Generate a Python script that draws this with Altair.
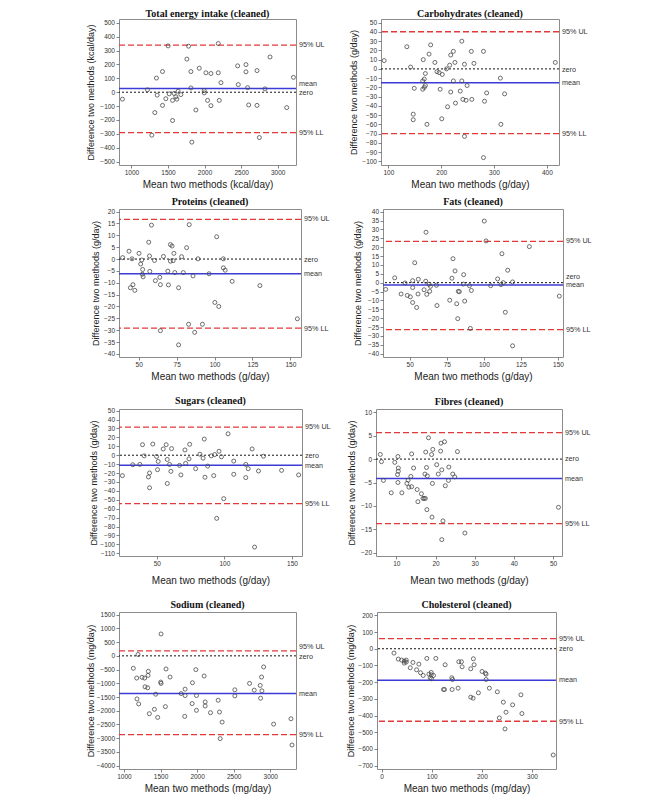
import altair as alt
import pandas as pd

titles = ["Total energy intake (cleaned)", "Carbohydrates (cleaned)", "Proteins (cleaned)",
          "Fats (cleaned)", "Sugars (cleaned)", "Fibres (cleaned)",
          "Sodium (cleaned)", "Cholesterol (cleaned)"]
units = ["kcal/day", "g/day", "g/day", "g/day", "g/day", "g/day", "mg/day", "mg/day"]
line_labels = ["95% UL", "zero", "mean", "95% LL"]

# ---------- data (mean of two methods, difference of two methods) ----------
energy_x = [877, 1342, 1425, 1320, 1279, 1352, 1425, 1470, 1502, 1516, 1562, 1562, 1584, 1607,
            1621, 1639, 1676, 1219, 1758, 1781, 1813, 1813, 1826, 1881, 1927, 1995, 1995, 2018,
            2041, 2087, 2087, 2187, 2187, 2201, 2224, 2452, 2461, 2566, 2566, 2589, 2603, 2717,
            2717, 2749, 2826, 2895, 3123, 3215]
energy_y = [-50, 102, 149, -147, -310, -21, -95, -47, 334, -12, -59, -204, -9, -33,
            -50, 7, -17, 17, 239, 332, 149, 31, -360, -128, 173, 12, -5, 140,
            -59, 135, -97, 140, 351, -59, 69, 190, 55, 199, 147, 33, -92, 156,
            -95, -327, 24, 254, -111, 107]

carb_x = [92, 135, 142, 147, 147, 149, 166, 170, 168, 165, 168, 165, 170, 173, 177, 180, 188,
          192, 196, 198, 202, 201, 210, 212, 216, 218, 218, 223, 223, 226, 227, 236, 239, 239,
          241, 244, 244, 247, 249, 257, 258, 262, 280, 280, 282, 286, 312, 313, 320, 416]
carb_y = [9, 24, 2, -49, -55, -21, 10, -5, -11, -13, -20, -22, -18, -60, 16, 26, 7,
          -3, -4, -22, -6, -54, 0, -41, 4, 15, -25, 19, -13, 7, -37, -24, 30, -13,
          -33, 5, -73, -34, -18, 19, -33, 6, 19, -96, -35, -26, -10, -60, -27, 7]

prot_x = [39.4, 43.6, 44.5, 45.6, 46.2, 47.4, 50.2, 51.3, 52.0, 52.4, 52.6, 52.9, 56.6, 57.1,
          57.3, 58.4, 60.4, 61.0, 63.9, 64.3, 64.3, 66.3, 69.2, 69.6, 70.9, 70.9, 72.0, 72.7,
          73.2, 73.8, 76.3, 76.3, 78.3, 79.4, 81.6, 82.9, 83.3, 85.8, 86.9, 89.1, 92.0, 96.4,
          100.2, 101.4, 102.8, 105.8, 105.8, 107.0, 111.6, 129.9, 154.6]
prot_y = [0.6, 3.3, -12.1, 0.1, -10.8, -13.2, 2.4, -2.1, -0.4, -6.4, -4.4, -7.5, 7.1, 1.3,
          -5.2, 14.3, -0.6, -9.1, -7.7, -10.8, -30.2, 1.1, -5.1, -10.9, 6.1, -0.9, 5.5, -0.7,
          2.4, -5.7, -12.1, -36.2, 1.0, -5.7, 4.8, -27.5, 14.5, -7.1, -30.9, 0.1, -27.5, -6.2,
          -18.3, 9.4, -20.0, 0.1, -3.7, -4.7, -9.4, -11.2, -25.2]

fat_x = [33.8, 39.9, 44.2, 46.9, 48.4, 50.4, 52.0, 52.0, 52.0, 53.4, 54.7, 55.6, 55.8, 59.7,
         61.0, 60.8, 61.5, 63.1, 63.5, 64.0, 68.0, 68.4, 77.0, 78.5, 79.2, 80.6, 81.7, 82.4,
         82.8, 83.5, 86.4, 86.2, 87.1, 90.3, 91.6, 90.9, 100.3, 101.5, 104.6, 109.3, 111.6,
         112.2, 113.1, 114.5, 116.1, 119.4, 119.4, 130.7, 150.9]
fat_y = [-3.8, 2.7, -6.4, -0.2, -7.2, -8.0, 1.1, -2.8, -11.2, 11.2, -14.0, -6.4, 1.9, -4.0,
         28.4, 0.8, -6.6, -0.9, -4.9, -2.1, -1.5, -12.9, -9.9, 2.5, 13.5, 6.6, -11.9, -20.3,
         -4.9, -5.1, 4.5, -0.8, -10.4, -1.7, -4.4, -25.8, 34.7, 23.5, -1.7, 2.1, -1.1,
         16.3, 0.0, -16.7, 7.0, 0.4, -35.6, 20.3, -7.6]

sugar_x = [24.5, 32.2, 37.4, 39.4, 40.6, 43.8, 44.6, 44.6, 47.0, 49.8, 51.0, 50.5, 54.7, 56.9,
           57.7, 57.7, 59.4, 60.4, 60.9, 66.8, 67.8, 70.8, 71.3, 73.8, 74.3, 78.7, 81.9, 84.2,
           85.1, 85.6, 87.6, 90.3, 92.1, 92.8, 94.3, 96.0, 97.8, 99.5, 102.7, 106.9, 106.9,
           115.8, 115.8, 117.6, 120.5, 122.3, 125.2, 128.9, 142.3, 154.9]
sugar_y = [-22.9, -10.7, -10.3, 11.8, -0.7, -24.4, -19.9, -36.5, 12.5, -1.5, -7.0, -16.2, 7.0, 11.8,
           -4.8, -31.7, -10.3, -18.1, 7.4, -11.4, -22.1, 5.9, -9.2, -4.1, 12.2, -15.1, 1.1, -3.3,
           18.1, -24.7, -12.2, -0.7, -22.9, 0.7, -70.8, 4.4, -1.8, -48.7, 24.0, -6.6, -21.4,
           -10.3, -25.1, -15.1, 7.0, -103.0, -17.7, -1.1, -17.0, -22.1]

fibre_x = [5.9, 6.2, 6.7, 8.7, 9.6, 10.4, 10.5, 10.5, 10.3, 10.4, 11.4, 12.7, 13.0, 13.2, 13.7,
           13.9, 13.9, 14.4, 15.3, 15.5, 16.4, 16.8, 17.1, 17.4, 17.3, 17.5, 17.7, 17.9, 17.8,
           18.2, 19.0, 19.1, 19.2, 19.3, 20.3, 20.7, 21.3, 21.4, 21.6, 21.6, 21.9, 22.3, 22.5,
           23.3, 23.4, 24.4, 24.9, 25.6, 27.5, 51.4]
fibre_y = [1.0, -0.55, -4.55, -7.2, -0.7, 0.55, -1.9, -2.6, -3.3, -5.0, -7.2, -5.2, -4.5, -6.0, -3.7,
           -5.9, 1.1, -1.9, -6.5, -9.1, -7.4, -8.4, -8.4, -8.4, -3.2, 1.5, -1.8, -3.6, -10.8,
           4.55, 0.97, -12.4, -5.2, 2.07, -1.2, -3.2, 1.7, 3.4, -2.3, -17.2, -13.2, 3.7, -5.7,
           -4.55, -1.7, -3.2, -3.8, 1.6, -15.8, -10.3]

sodium_x = [1128, 1174, 1178, 1192, 1201, 1247, 1283, 1288, 1329, 1333, 1324, 1347, 1416, 1434,
            1461, 1507, 1502, 1507, 1566, 1575, 1630, 1781, 1836, 1836, 1831, 1936, 1932, 1982,
            1991, 1991, 2096, 2110, 2110, 2183, 2288, 2306, 2315, 2342, 2516, 2516, 2717, 2781,
            2863, 2868, 2881, 2886, 2909, 3046, 3283, 3297]
sodium_y = [-453, -809, -1569, 49, -1752, -784, -809, -1127, -711, -564, -1164, -2108, -1949, -1397,
            -2243, 797, -956, -1005, -1850, -478, -772, -1373, -1213, -1446, -2206, -980, -1740, -502,
            -1446, -1985, -735, -1679, -1826, -2071, -1618, -2047, -3015, -2414, -1238, -1458, -1005, -1250,
            -1078, -1544, -772, -1275, -404, -2488, -2292, -3248]

chol_x = [24.6, 33.2, 39.8, 45.1, 45.1, 49.1, 49.1, 57.1, 62.4, 69.7, 74.3, 77.6, 82.9, 90.2,
          94.2, 96.8, 98.9, 98.9, 99.5, 103.5, 108.2, 126.7, 123.4, 125.4, 140.0, 140.7, 141.4,
          152.6, 154.0, 159.3, 160.6, 177.8, 177.8, 182.5, 183.1, 184.5, 193.1, 200.4, 207.0,
          208.4, 208.4, 215.0, 230.9, 242.9, 234.9, 246.2, 248.2, 261.4, 278.0, 280.0, 342.4]
chol_y = [-26, -62, -68, -74, -86, -68, -80, -114, -82, -126, -92, -144, -160, -58,
          -152, -174, -142, -156, -180, -160, -58, -96, -244, -244, -174, -244, -184,
          -236, -78, -78, -108, -120, -290, -296, -60, -96, -264, -136, -146,
          -152, -184, -236, -258, -320, -414, -480, -380, -336, -276, -388, -636]

xs_all = [energy_x, carb_x, prot_x, fat_x, sugar_x, fibre_x, sodium_x, chol_x]
ys_all = [energy_y, carb_y, prot_y, fat_y, sugar_y, fibre_y, sodium_y, chol_y]

# limits of agreement: upper limit, mean difference, lower limit
limits = [[339, 26, -291], [40.2, -15, -70], [16.7, -6.2, -29.1], [23.3, -1.3, -26.5],
          [31.4, -11.4, -54.2], [5.66, -4.14, -13.8], [184, -1373, -2868], [60, -188, -434]]
# where the four right-hand labels sit (UL, zero, mean, LL)
label_pos = [[339, -5, 57, -291], [40.2, -1, -15, -70], [16.7, -0.3, -6.4, -29.3],
             [23.3, 3, -1.5, -26.5], [31.4, -0.7, -12.2, -54.2], [5.66, 0, -4.2, -13.9],
             [306, -37, -1385, -2868], [60, -2, -188, -436]]

x_domains = [[830, 3250], [86, 423], [37, 157], [32, 153.4], [22, 157.4], [4.8, 52.3],
             [932, 3352], [-9.3, 348]]
y_domains = [[-525, 528], [-104, 54], [-41.3, 21.1], [-41.9, 41.5], [-113, 51.8], [-20.7, 10.7],
             [-4123, 1598], [-720, 220]]
x_ticks = [[1000, 1500, 2000, 2500, 3000], [100, 200, 300, 400], [50, 75, 100, 125, 150],
           [50, 75, 100, 125, 150], [50, 100, 150], [10, 20, 30, 40, 50],
           [1000, 1500, 2000, 2500, 3000], [0, 100, 200, 300]]
y_ticks = [list(range(-500, 501, 100)), list(range(-100, 51, 10)), list(range(-40, 21, 5)),
           list(range(-40, 41, 5)), list(range(-110, 51, 10)), list(range(-20, 11, 5)),
           list(range(-4000, 1501, 500)), list(range(-700, 201, 100))]

# layout per panel: width, height, y-axis extent, title offset, x-title padding
widths = [177, 178, 182, 180, 183, 186, 177, 179]
heights = [146, 146, 148, 148, 147, 147, 157, 157]
extents = [21, 19.5, 16, 17.5, 18, 16.5, 21, 18.5]
title_offsets = [0, 0, 2, 2, 2, 2, 2, 2]
x_title_pad = [3, 3, 3, 3, 8, 8, 3, 3]
col_spacing = [22, 22, 15, 20]
row_gaps = [6, 13, 13]

RED = "#e23a3a"
BLUE = "#3b3bd6"


def panel(i):
    w, h = widths[i], heights[i]
    xsc = alt.Scale(domain=x_domains[i], nice=False, zero=False)
    ysc = alt.Scale(domain=y_domains[i], nice=False, zero=False)
    xax = alt.Axis(values=x_ticks[i], format="d", title=f"Mean two methods ({units[i]})",
                   titlePadding=x_title_pad[i])
    yax = alt.Axis(values=y_ticks[i], format="d", title=f"Difference two methods ({units[i]})",
                   minExtent=extents[i], maxExtent=extents[i], titlePadding=3)
    ul, mn, ll = limits[i]

    pts = alt.Chart(pd.DataFrame({"x": xs_all[i], "y": ys_all[i]})).mark_point(
        shape="circle", filled=False, color="#4a4a4a", size=16, strokeWidth=0.8, opacity=1
    ).encode(x=alt.X("x:Q", scale=xsc, axis=xax), y=alt.Y("y:Q", scale=ysc, axis=yax))

    red = alt.Chart(pd.DataFrame({"y": [ul, ll]})).mark_rule(
        color=RED, strokeDash=[6, 3], strokeWidth=1.3
    ).encode(y=alt.Y("y:Q", scale=ysc, axis=yax))
    zero = alt.Chart(pd.DataFrame({"y": [0]})).mark_rule(
        color="#111111", strokeDash=[2, 2], strokeWidth=1
    ).encode(y=alt.Y("y:Q", scale=ysc, axis=yax))
    mean = alt.Chart(pd.DataFrame({"y": [mn]})).mark_rule(
        color=BLUE, strokeWidth=1.5
    ).encode(y=alt.Y("y:Q", scale=ysc, axis=yax))
    txt = alt.Chart(pd.DataFrame({"y": label_pos[i], "t": line_labels})).mark_text(
        align="left", baseline="middle", fontSize=7.2, color="#333333", font="Liberation Sans"
    ).encode(x=alt.value(w + 3), y=alt.Y("y:Q", scale=ysc, axis=yax), text="t:N")

    return alt.layer(red, zero, mean, pts, txt).properties(
        width=w, height=h,
        title=alt.TitleParams(titles[i], font="Liberation Serif", fontSize=10,
                              fontWeight="bold", color="#111111", offset=title_offsets[i],
                              anchor="middle"))


rows = [alt.hconcat(panel(2 * r), panel(2 * r + 1), spacing=col_spacing[r]) for r in range(4)]

chart = alt.vconcat(
    rows[0],
    alt.vconcat(rows[1], alt.vconcat(rows[2], rows[3], spacing=row_gaps[2]), spacing=row_gaps[1]),
    spacing=row_gaps[0]
).properties(
    padding={"left": 77, "top": 0, "right": 0, "bottom": 0}
).configure_view(
    stroke="#8c8c8c", strokeWidth=1
).configure_axis(
    domain=False, grid=False, tickSize=3, tickColor="#666666", tickWidth=0.8,
    labelFontSize=6.5, labelColor="#333333", labelFont="Liberation Sans", labelPadding=1.5,
    titleFont="Liberation Sans", titleFontWeight="normal", titleColor="#222222"
).configure_axisX(
    titleFontSize=10
).configure_axisY(
    titleFontSize=9
)

chart.save("out.html", embed_options={"renderer": "svg", "actions": False})
